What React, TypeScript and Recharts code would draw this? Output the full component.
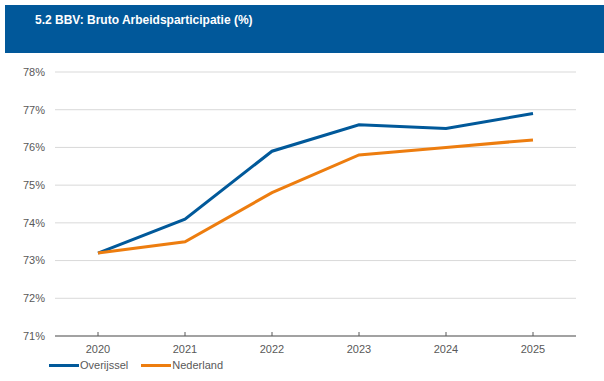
import React from "react";
import { LineChart, Line, XAxis, YAxis, CartesianGrid } from "recharts";

const years = ["2020", "2021", "2022", "2023", "2024", "2025"];
const overijssel = [73.2, 74.1, 75.9, 76.6, 76.5, 76.9];
const nederland = [73.2, 73.5, 74.8, 75.8, 76.0, 76.2];
const yTicks = [71, 72, 73, 74, 75, 76, 77, 78];
const title = "5.2 BBV: Bruto Arbeidsparticipatie (%)";
const seriesNames = ["Overijssel", "Nederland"];
const seriesColors = ["#01599A", "#ED7D0F"];

const data = years.map((y, i) => ({ year: y, Overijssel: overijssel[i], Nederland: nederland[i] }));

export default function App() {
  const font = "'Liberation Sans', Arial, sans-serif";
  return (
    <div style={{ position: "absolute", left: 0, top: 0, width: 604, height: 381, background: "#fff", fontFamily: font }}>
      <div style={{ position: "absolute", left: 5, top: 5, width: 599, height: 48, background: "#01589A" }}>
        <div style={{ position: "absolute", left: 30, top: 8, color: "#fff", fontWeight: "bold", fontSize: 12, fontFamily: font }}>{title}</div>
      </div>
      <div style={{ position: "absolute", left: 0, top: 0 }}>
        <LineChart width={604} height={381} data={data} margin={{ top: 72, right: 28, bottom: 0, left: 0 }}>
          <CartesianGrid horizontal={true} vertical={false} stroke="#D9D9D9" strokeWidth={1} />
          <XAxis
            dataKey="year"
            padding={{ left: 43, right: 43 }}
            axisLine={{ stroke: "#595959", strokeWidth: 1 }}
            tickLine={{ stroke: "#595959" }}
            tickSize={-4}
            tickMargin={13}
            tick={{ fill: "#595959", fontSize: 11, fontFamily: font }}
            height={45}
          />
          <YAxis
            domain={[71, 78]}
            ticks={yTicks}
            tickFormatter={(v: number) => `${v}%`}
            axisLine={false}
            tickLine={false}
            tickMargin={4}
            width={55}
            interval={0}
            tick={{ fill: "#595959", fontSize: 11, fontFamily: font }}
          />
          <Line type="linear" dataKey="Overijssel" stroke={seriesColors[0]} strokeWidth={3} dot={false} isAnimationActive={false} />
          <Line type="linear" dataKey="Nederland" stroke={seriesColors[1]} strokeWidth={3} dot={false} isAnimationActive={false} />
        </LineChart>
      </div>
      <div style={{ position: "absolute", left: 49, top: 359, display: "flex", fontSize: 11, color: "#595959", fontFamily: font }}>
        {seriesNames.map((n, i) => (
          <div key={n} style={{ display: "flex", alignItems: "center", marginRight: 13 }}>
            <div style={{ width: 30, height: 3, background: seriesColors[i], marginRight: 1 }} />
            <span>{n}</span>
          </div>
        ))}
      </div>
    </div>
  );
}
